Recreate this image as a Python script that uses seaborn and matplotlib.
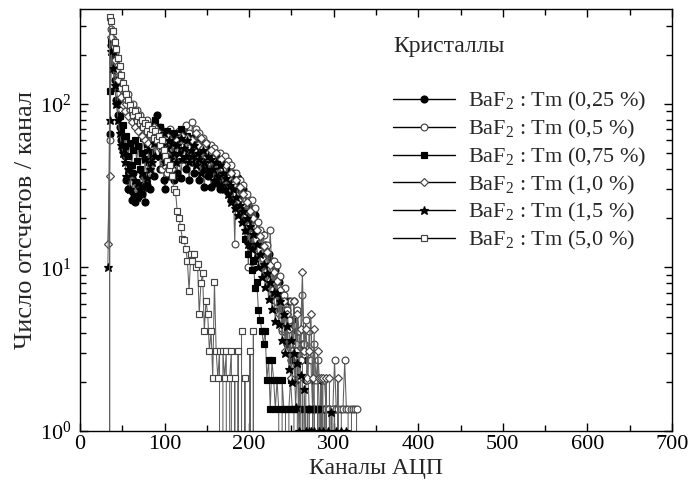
import numpy as np
import pandas as pd
import matplotlib
matplotlib.use('Agg')
import matplotlib.pyplot as plt
import seaborn as sns
from matplotlib.ticker import MultipleLocator, LogLocator, NullFormatter

# ADC channel grid (every 2nd channel, 33 .. 333)
channels = list(range(33, 334, 2))

tm_025 = [0, 65, 230, 180, 140, 105, 85, 72, 60, 52,
          48, 34, 30, 42, 26, 38, 25, 33, 27, 31,
          28, 36, 25, 32, 44, 30, 48, 36, 58, 85,
          62, 40, 52, 34, 30, 46, 36, 56, 40, 34,
          48, 38, 60, 35, 46, 68, 40, 52, 34, 48,
          56, 38, 44, 52, 34, 48, 40, 31, 46, 36,
          42, 31, 40, 46, 33, 39, 30, 42, 33, 37,
          30, 42, 34, 26, 38, 31, 24, 35, 27, 22,
          30, 20, 25, 17, 23, 19, 15, 21, 14, 17,
          12, 16, 10, 13.7, 9.6, 12, 8.2, 11, 6.8, 9.6,
          6.2, 8.2, 5.5, 6.8, 4.1, 5.5, 3.4, 6.2, 2.7, 4.8,
          3.4, 2.05, 4.1, 1.37, 2.7, 3.4, 0, 2.05, 2.7, 1.37,
          0, 2.05, 1.37, 0, 1.37, 0, 2.05, 0, 1.37, 0,
          0, 1.37, 0, 0, 1.37, 0, 0, 0, 0, 0,
          0, 0, 0, 0, 0, 0, 0, 0, 0, 0,
          0]
tm_05 = [0, 60, 285, 250, 205, 175, 155, 140, 125, 112,
         112, 104, 115, 96, 90, 100, 84, 92, 78, 86,
         72, 78, 65, 80, 70, 62, 74, 58, 68, 64,
         56, 72, 40, 52, 66, 38, 62, 70, 44, 54,
         60, 50, 68, 55, 46, 62, 74, 58, 66, 52,
         78, 60, 70, 54, 66, 50, 62, 45, 58, 52,
         48, 56, 42, 54, 46, 38, 50, 44, 36, 48,
         40, 45, 33, 42, 36, 14, 38, 30, 34, 26,
         32, 24, 28, 10, 22, 26, 18, 23, 15, 19,
         17, 13, 15.8, 11, 13.7, 9.6, 17, 8.2, 11, 6.8,
         10.3, 7.5, 8.9, 4.1, 6.8, 7.5, 5.5, 4.8, 6.2, 3.4,
         6.2, 3.4, 5.5, 4.1, 2.7, 6.8, 3.4, 4.8, 2.05, 4.1,
         2.7, 1.37, 3.4, 2.05, 2.7, 1.37, 0, 2.05, 2.05, 1.37,
         1.37, 1.37, 0, 1.37, 2.7, 1.37, 1.37, 0, 1.37, 1.37,
         2.7, 1.37, 1.37, 0, 1.37, 1.37, 1.37, 1.37, 0, 0,
         0]
tm_075 = [0, 120, 250, 200, 160, 125, 100, 84, 70, 74,
          55, 64, 48, 58, 42, 52, 60, 45, 55, 40,
          50, 62, 46, 57, 68, 52, 74, 60, 80, 66,
          58, 72, 50, 62, 56, 68, 48, 60, 52, 66,
          50, 62, 54, 70, 48, 60, 56, 64, 50, 58,
          54, 62, 48, 58, 45, 56, 50, 44, 55, 46,
          42, 50, 44, 38, 48, 40, 35, 44, 38, 32,
          40, 34, 28, 36, 31, 25, 33, 27, 30, 22,
          20, 15, 17, 12, 13.7, 9.6, 11, 7.5, 8.2, 5.5,
          4.8, 4.1, 3.4, 4.1, 2.05, 2.7, 1.37, 2.7, 2.05, 1.37,
          2.05, 1.37, 0, 2.05, 1.37, 1.37, 0, 1.37, 2.05, 1.37,
          1.37, 0, 1.37, 1.37, 0, 1.37, 1.37, 0, 1.37, 1.37,
          0, 1.37, 1.37, 0, 1.37, 0, 0, 0, 0, 0,
          0, 0, 0, 0, 0, 0, 0, 0, 0, 0,
          0, 0, 0, 0, 0, 0, 0, 0, 0, 0,
          0]
tm_10 = [14, 36, 255, 220, 185, 160, 140, 125, 110, 98,
         90, 100, 84, 92, 78, 86, 72, 80, 68, 76,
         64, 74, 60, 70, 58, 66, 55, 72, 60, 56,
         66, 54, 62, 42, 58, 64, 52, 60, 40, 56,
         52, 60, 48, 56, 64, 50, 58, 62, 54, 48,
         60, 52, 66, 56, 48, 62, 54, 46, 58, 50,
         44, 52, 46, 40, 50, 42, 36, 46, 40, 34,
         42, 35, 30, 38, 32, 28, 34, 26, 31, 24,
         28, 21, 25, 18, 22, 16, 20, 15, 17, 13,
         15.6, 11.4, 13.5, 9.4, 12.5, 8.3, 10.4, 7.3, 9.4, 6.2,
         8.3, 5.2, 7.3, 4.2, 6.2, 3.1, 5.2, 4.2, 2.1, 3.1,
         6.2, 3.1, 5.2, 2.1, 4.2, 9.4, 3.1, 4.2, 2.1, 3.1,
         5.2, 2.1, 4.2, 0, 3.1, 2.1, 2.1, 2.1, 0, 2.1,
         0, 2.1, 0, 0, 0, 0, 2.1, 0, 0, 0,
         0, 0, 0, 0, 0, 0, 0, 0, 0, 0,
         0]
tm_15 = [10, 80, 210, 165, 130, 100, 80, 66, 56, 50,
         44, 36, 40, 30, 38, 28, 34, 27, 33, 30,
         38, 31, 46, 35, 52, 40, 44, 58, 48, 64,
         60, 48, 56, 66, 44, 54, 60, 46, 58, 50,
         44, 56, 50, 62, 46, 54, 48, 60, 44, 52,
         48, 56, 42, 50, 46, 38, 52, 44, 40, 48,
         38, 46, 40, 34, 44, 36, 42, 32, 38, 30,
         35, 28, 32, 25, 30, 23, 27, 21, 24, 19,
         22, 17, 20, 14, 18, 13, 16, 11.5, 14, 10,
         12, 8.8, 10.5, 7.6, 9.3, 6.4, 8.2, 5.6, 7.1, 4.7,
         7, 4.5, 6.2, 3.6, 5.2, 3.0, 4.4, 2.4, 3.6, 2.0,
         3.0, 1.4, 2.6, 1.0, 2.2, 0, 1.8, 1.0, 0, 1.0,
         1.0, 0, 1.0, 0, 0, 1.0, 0, 1.0, 0, 0,
         1.0, 0, 1.3, 0, 0, 1.0, 0, 0, 1.0, 0,
         0, 1.0, 0, 0, 0, 0, 0, 0, 0, 0,
         0]
tm_50 = [0, 340, 320, 280, 240, 215, 190, 170, 150, 135,
         125, 115, 105, 98, 92, 86, 90, 80, 84, 76,
         80, 72, 76, 68, 74, 65, 70, 62, 68, 60,
         64, 56, 60, 52, 48, 45, 40, 42, 36, 30,
         29, 22, 20, 17.7, 15, 14.7, 13, 11, 7.2, 12,
         11, 12, 10, 10.5, 5.2, 8, 9.3, 4.1, 6.2, 5.2,
         3.1, 4.1, 2.1, 8.2, 3.1, 2.1, 3.1, 0, 3.1, 2.1,
         3.1, 0, 2.1, 3.1, 0, 2.1, 0, 3.1, 0, 4.1,
         0, 2.1, 0, 0, 3.1, 0, 4.1, 0, 0, 0,
         0, 0, 0, 0, 0, 0, 0, 0, 0, 0,
         0, 0, 0, 0, 0, 0, 0, 0, 0, 0,
         0, 0, 0, 0, 0, 0, 0, 0, 0, 0,
         0, 0, 0, 0, 0, 0, 0, 0, 0, 0,
         0, 0, 0, 0, 0, 0, 0, 0, 0, 0,
         0, 0, 0, 0, 0, 0, 0, 0, 0, 0,
         0]

series_labels = ['BaF$_2$ : Tm (0,25 %)', 'BaF$_2$ : Tm (0,5 %)',
                 'BaF$_2$ : Tm (0,75 %)', 'BaF$_2$ : Tm (1,0 %)',
                 'BaF$_2$ : Tm (1,5 %)', 'BaF$_2$ : Tm (5,0 %)']
legend_title = 'Кристаллы'
x_label = 'Каналы АЦП'
y_label = 'Число отсчетов / канал'

sns.set_style('ticks')
plt.rcParams.update({
    'font.family': ['Liberation Serif', 'DejaVu Serif'],
    'mathtext.fontset': 'custom',
    'mathtext.rm': 'Liberation Serif',
    'mathtext.it': 'Liberation Serif:italic',
    'mathtext.bf': 'Liberation Serif:bold',
    'mathtext.default': 'regular',
    'font.size': 16,
    'axes.edgecolor': 'black',
    'axes.linewidth': 1.0,
})

fig = plt.figure(figsize=(6.93, 4.9), dpi=100)
ax = fig.add_axes([0.1154, 0.1204, 0.9697 - 0.1154, 0.9816 - 0.1204])

all_series = [tm_025, tm_05, tm_075, tm_10, tm_15, tm_50]
styles = [
    dict(marker='o', markerfacecolor='black', markeredgecolor='black', markersize=5.0),
    dict(marker='o', markerfacecolor='white', markeredgecolor='#444444', markersize=4.9),
    dict(marker='s', markerfacecolor='black', markeredgecolor='black', markersize=4.5),
    dict(marker='D', markerfacecolor='white', markeredgecolor='#444444', markersize=4.1),
    dict(marker='*', markerfacecolor='black', markeredgecolor='black', markersize=6.4),
    dict(marker='s', markerfacecolor='white', markeredgecolor='#444444', markersize=4.5),
]

for vals, lab, st in zip(all_series, series_labels, styles):
    df = pd.DataFrame({'channel': channels, 'counts': vals})
    sns.lineplot(data=df, x='channel', y='counts', ax=ax, color='#606060',
                 linewidth=0.75, markeredgewidth=0.85, label=lab,
                 estimator=None, sort=False, **st)

ax.set_yscale('log')
ax.set_xlim(0, 700)
ax.set_ylim(1, 380)
ax.xaxis.set_major_locator(MultipleLocator(100))
ax.xaxis.set_minor_locator(MultipleLocator(50))
ax.yaxis.set_major_locator(LogLocator(base=10, numticks=10))
ax.yaxis.set_minor_locator(LogLocator(base=10, subs=np.arange(2, 10), numticks=20))
ax.yaxis.set_minor_formatter(NullFormatter())
ax.tick_params(which='both', direction='in', top=True, right=True,
               width=1.0, colors='black', labelsize=16)
ax.tick_params(which='major', length=6)
ax.tick_params(which='minor', length=4)
ax.tick_params(axis='x', which='major', pad=3)
ax.tick_params(axis='y', which='major', pad=6)

ax.set_xlabel(x_label, fontsize=17, labelpad=3)
ax.set_ylabel(y_label, fontsize=19, labelpad=2)

ax.text(0.529, 0.910, legend_title, transform=ax.transAxes,
        fontsize=17, ha='left', va='center')

leg = ax.legend(loc='upper left', bbox_to_anchor=(0.529, 0.807),
                frameon=False, fontsize=16, borderpad=0, borderaxespad=0,
                handlelength=2.8, handletextpad=0.55, labelspacing=0.21)
for h in leg.legend_handles:
    h.set_color('black')
    h.set_linewidth(1.0)

fig.savefig('out.png', dpi=100)
